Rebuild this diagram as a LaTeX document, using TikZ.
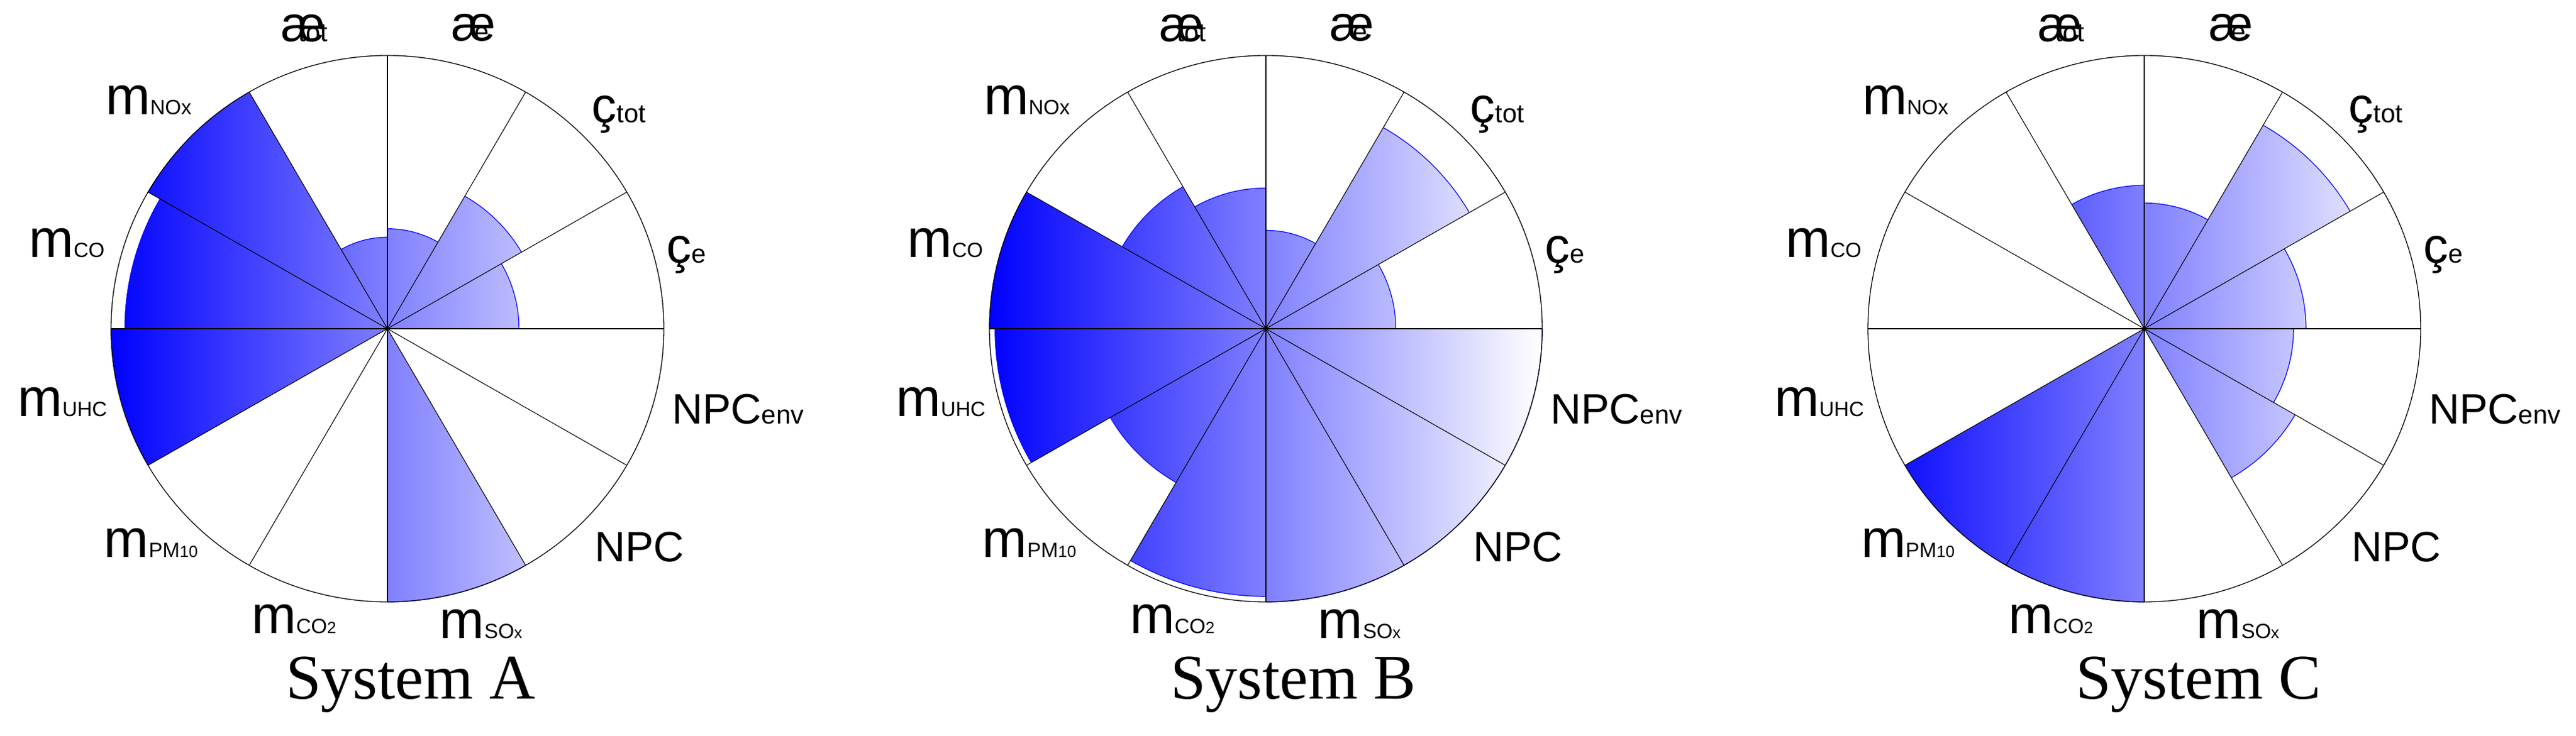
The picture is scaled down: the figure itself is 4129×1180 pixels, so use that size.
\documentclass[tikz,border=0pt]{standalone}
\usepackage{fontspec}
\setmainfont{Liberation Sans}
\newfontfamily\titlefont{Liberation Serif}
\begin{document}
\begin{tikzpicture}[x=1pt,y=1pt,
  lab/.style={inner sep=0pt,font=\fontsize{86}{86}\selectfont},
  ttl/.style={inner sep=0pt,font=\titlefont\fontsize{102}{102}\selectfont}]
\newcommand\sbm[1]{{\fontsize{33}{33}\selectfont #1}}
\newcommand\sbc[1]{{\fontsize{42}{42}\selectfont #1}}
\newcommand\bigsym[1]{{\fontsize{80}{80}\selectfont #1}}
\newcommand\npc[1]{{\fontsize{68}{68}\selectfont #1}}
\newcommand\polarchart[4]{%
\begin{scope}[shift={(#1,653)}]
\foreach \f [count=\i from 0] in {#2} {
  \pgfmathsetmacro\aa{60-30*\i}
  \ifdim \f pt>0pt
   \begin{scope}
   \clip (0,0) -- (\aa:{\f*443} and {\f*438}) arc[start angle=\aa, delta angle=30, x radius={\f*443}, y radius={\f*438}] -- cycle;
   \shade[left color=blue,right color=white] (-443,-438) rectangle (443,438);
   \end{scope}
   \draw[blue,line width=1.2] (\aa:{\f*443} and {\f*438}) arc[start angle=\aa, delta angle=30, x radius={\f*443}, y radius={\f*438}];
  \fi
}
\draw[line width=1.3] (0,0) ellipse[x radius=443, y radius=438];
\foreach \a in {0,30,...,330} \draw[line width=1.1] (0,0) -- (\a:443 and 438);
\node[lab] (ttot#3) at (-133,482) {\bigsym{æ}\kern-0.5em\sbc{tot}};
\node[lab] (te#3) at (133,483) {\bigsym{æ}\kern-0.4em\sbc{e}};
\node[lab] (ctot#3) at (371,344) {\bigsym{ç}\sbc{tot}};
\node[lab] (ce#3) at (479,119) {\bigsym{ç}\sbc{e}};
\node[lab] (npcenv#3) at (562,-129) {\npc{NPC}\sbc{env}};
\node[lab] (npc#3) at (404,-350) {\npc{NPC}};
\node[lab] (sox#3) at (150,-474) {m\sbm{SO\fontsize{26}{26}\selectfont x}};
\node[lab] (co2#3) at (-150,-466) {m\sbm{CO\fontsize{26}{26}\selectfont 2}};
\node[lab] (pm#3) at (-379,-343) {m\sbm{PM\fontsize{26}{26}\selectfont 10}};
\node[lab] (uhc#3) at (-521,-118) {m\sbm{UHC}};
\node[lab] (co#3) at (-514,137) {m\sbm{CO}};
\node[lab] (nox#3) at (-383,366) {m\sbm{NOx}};
\node[ttl] (title#3) at (#4,-571) {System #3};
\end{scope}}
\useasboundingbox (0,0) rectangle (4129,1180);
\fill[white] (0,0) rectangle (4129,1180);
\polarchart{621}{0.366,0.56,0.476,0,0,1,0,0,1,0.95,1,0.335}{A}{37}
\polarchart{2029}{0.36,0.85,0.47,1,1,1,0.98,0.65,0.98,1,0.6,0.515}{B}{44}
\polarchart{3437}{0.46,0.86,0.585,0.54,0.63,0,1,1,0,0,0,0.525}{C}{87}
\end{tikzpicture}
\end{document}
